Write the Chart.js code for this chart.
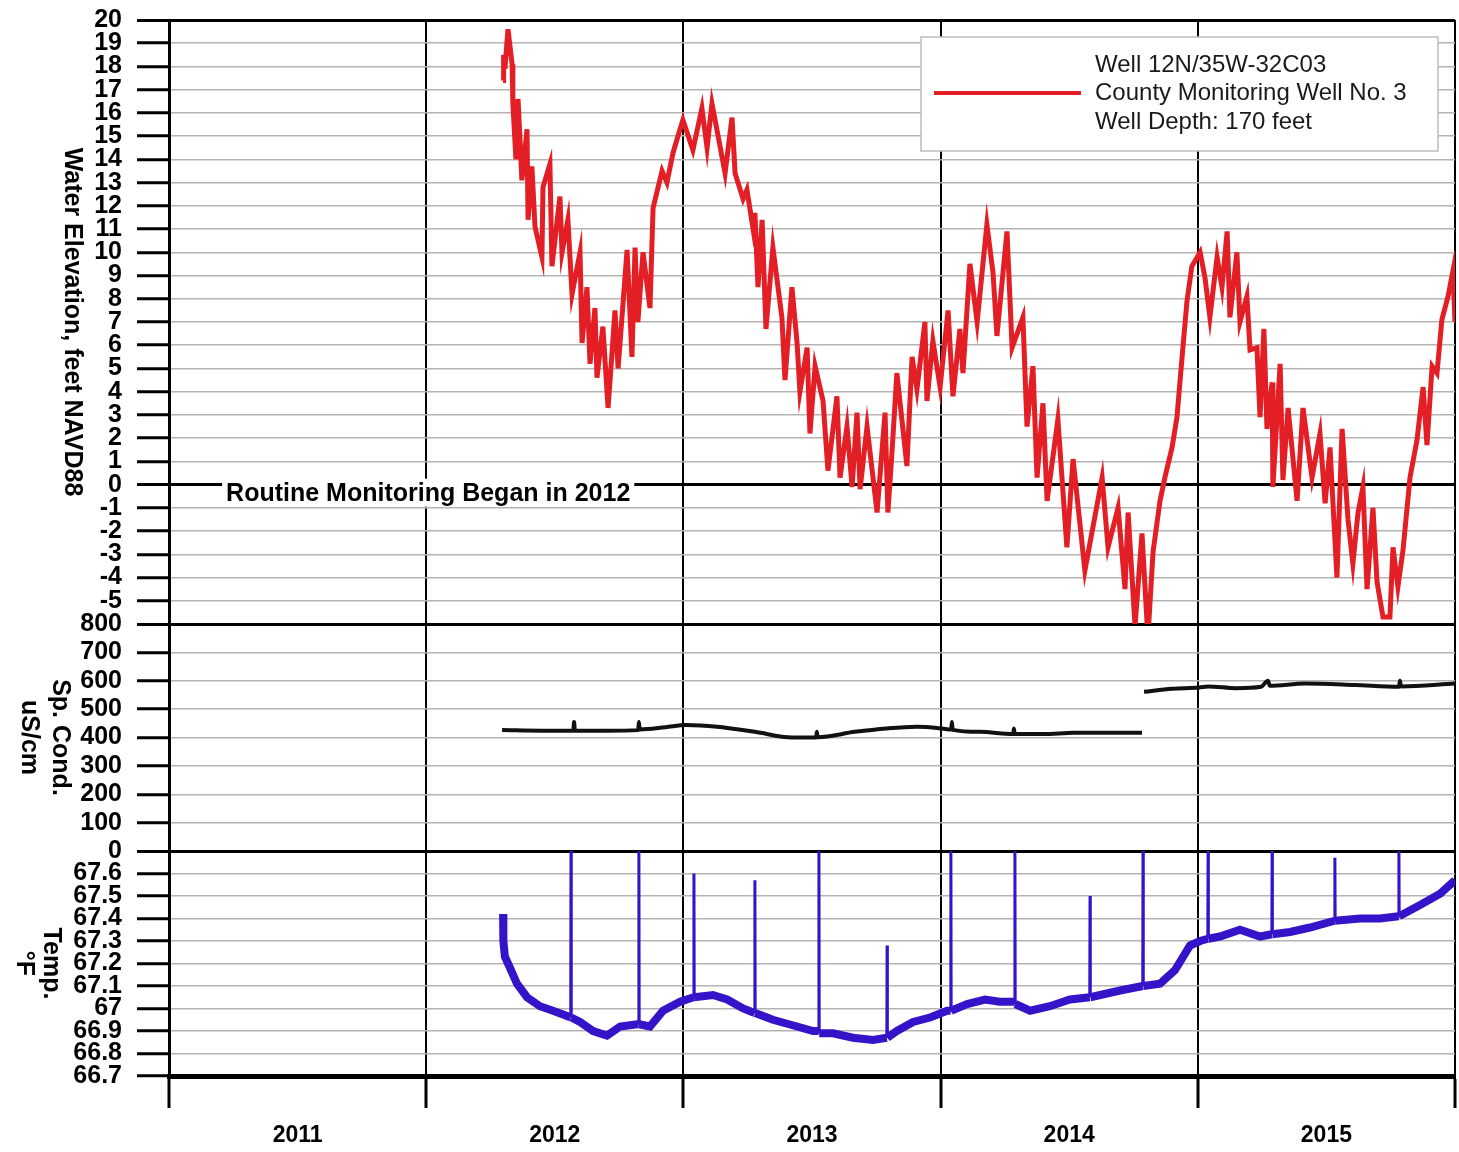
<!DOCTYPE html>
<html>
<head>
<meta charset="utf-8">
<script src="https://cdn.jsdelivr.net/npm/chart.js@4.4.1/dist/chart.umd.min.js"></script>
<style>
  html, body { margin: 0; padding: 0; background: #fff; }
  #wrap { width: 1459px; height: 1152px; position: relative; }
</style>
</head>
<body>
<div id="wrap"><canvas id="wellChart"></canvas></div>
<script>
// --- data (x in decimal years) ---
const yearTicks = [2011, 2012, 2013, 2014, 2015, 2016];

const levelYears = [
  2012.299, 2012.301, 2012.306, 2012.318, 2012.334, 2012.337, 2012.349, 2012.357, 2012.365, 2012.372,
  2012.392, 2012.396, 2012.411, 2012.423, 2012.450, 2012.454, 2012.481, 2012.489, 2012.520, 2012.528,
  2012.551, 2012.567, 2012.598, 2012.606, 2012.625, 2012.637, 2012.656, 2012.664, 2012.687, 2012.707,
  2012.722, 2012.734, 2012.746, 2012.781, 2012.800, 2012.812, 2012.823, 2012.843, 2012.870, 2012.882,
  2012.917, 2012.936, 2012.960, 2012.987, 2012.998, 2013.037, 2013.072, 2013.092, 2013.111, 2013.135,
  2013.162, 2013.189, 2013.201, 2013.232, 2013.247, 2013.271, 2013.278, 2013.290, 2013.306, 2013.321,
  2013.348, 2013.383, 2013.395, 2013.422, 2013.442, 2013.453, 2013.481, 2013.492, 2013.512, 2013.543,
  2013.562, 2013.597, 2013.609, 2013.636, 2013.656, 2013.675, 2013.687, 2013.714, 2013.753, 2013.784,
  2013.795, 2013.811, 2013.830, 2013.869, 2013.889, 2013.908, 2013.939, 2013.947, 2013.970, 2013.998,
  2014.029, 2014.048, 2014.075, 2014.087, 2014.114, 2014.142, 2014.180, 2014.204, 2014.219, 2014.258,
  2014.278, 2014.320, 2014.336, 2014.359, 2014.375, 2014.398, 2014.414, 2014.456, 2014.491, 2014.515,
  2014.561, 2014.628, 2014.651, 2014.690, 2014.717, 2014.729, 2014.756, 2014.783, 2014.806, 2014.826,
  2014.853, 2014.872, 2014.900, 2014.919, 2014.939, 2014.958, 2014.977, 2015.009, 2015.028, 2015.047,
  2015.075, 2015.094, 2015.114, 2015.125, 2015.152, 2015.164, 2015.191, 2015.203, 2015.230, 2015.242,
  2015.257, 2015.269, 2015.289, 2015.292, 2015.320, 2015.331, 2015.351, 2015.386, 2015.409, 2015.444,
  2015.475, 2015.495, 2015.514, 2015.541, 2015.561, 2015.584, 2015.603, 2015.623, 2015.642, 2015.658,
  2015.681, 2015.697, 2015.720, 2015.747, 2015.759, 2015.778, 2015.798, 2015.825, 2015.852, 2015.876,
  2015.891, 2015.911, 2015.930, 2015.949, 2015.973, 2015.992, 2016.000
];
const levelFeet = [
  17.4, 18.5, 17.9, 19.6, 18.1, 16.4, 14.0, 16.6, 14.8, 13.1,
  15.3, 11.4, 13.7, 11.1, 9.8, 12.8, 13.8, 9.4, 12.4, 10.0,
  11.4, 8.2, 10.0, 6.1, 8.5, 5.2, 7.6, 4.6, 6.8, 3.3,
  5.6, 7.5, 5.0, 10.1, 5.5, 10.2, 7.0, 10.0, 7.6, 11.9,
  13.5, 13.0, 14.3, 15.3, 15.7, 14.4, 16.2, 14.5, 16.4, 15.0,
  13.4, 15.8, 13.4, 12.3, 12.7, 11.0, 11.7, 8.5, 11.4, 6.7,
  10.2, 7.2, 4.5, 8.5, 6.1, 4.0, 5.9, 2.2, 5.1, 3.6,
  0.6, 3.8, 0.3, 2.5, -0.1, 3.1, -0.2, 2.5, -1.2, 3.1,
  -1.2, 1.4, 4.8, 0.8, 5.5, 4.1, 7.0, 3.6, 6.2, 4.2,
  7.5, 3.8, 6.7, 4.8, 9.5, 7.0, 11.2, 9.1, 6.4, 10.9,
  5.9, 7.2, 2.5, 5.1, 0.3, 3.5, -0.7, 2.8, -2.7, 1.1,
  -3.7, 0.3, -2.7, -1.0, -4.5, -1.2, -6.1, -2.1, -6.6, -2.9,
  -0.7, 0.3, 1.6, 2.9, 5.5, 7.9, 9.4, 10.0, 8.9, 7.2,
  9.8, 8.5, 10.9, 7.2, 10.0, 7.0, 8.1, 5.8, 5.9, 2.9,
  6.7, 2.4, 4.4, -0.1, 5.2, 0.2, 3.3, -0.7, 3.3, 0.3,
  2.2, -0.8, 1.6, -4.0, 2.4, -1.5, -3.4, -1.2, -0.1, -4.5,
  -1.0, -4.2, -5.7, -5.7, -2.7, -4.4, -2.8, 0.3, 1.9, 4.2,
  1.7, 5.1, 4.8, 7.1, 8.1, 9.2, 7.0
];

const condYears = [
  2012.295, 2012.450, 2012.572, 2012.575, 2012.578, 2012.700, 2012.824, 2012.827, 2012.830, 2012.930,
  2013.010, 2013.131, 2013.278, 2013.422, 2013.516, 2013.519, 2013.522, 2013.667, 2013.790, 2013.908,
  2014.005, 2014.041, 2014.044, 2014.047, 2014.153, 2014.282, 2014.285, 2014.288, 2014.400, 2014.519,
  2014.783, 2014.787, 2014.791, 2014.900, 2015.005, 2015.040, 2015.150, 2015.246, 2015.273, 2015.280,
  2015.417, 2015.611, 2015.782, 2015.786, 2015.790, 2016.000
];
const condValues = [
  426, 424, 424, 455, 424, 424, 426, 455, 428, 436,
  444, 438, 420, 400, 400, 420, 401, 420, 432, 438,
  432, 428, 455, 427, 420, 412, 432, 412, 412, 417,
  417, null, 561, 572, 576, 580, 574, 579, 600, 582,
  590, 585, 579, 600, 580, 590
];

const tempYears = [
  2012.299, 2012.300, 2012.306, 2012.326, 2012.353, 2012.392, 2012.442, 2012.493, 2012.540, 2012.562,
  2012.563, 2012.564, 2012.598, 2012.649, 2012.703, 2012.754, 2012.820, 2012.826, 2012.827, 2012.828,
  2012.870, 2012.921, 2012.987, 2013.040, 2013.041, 2013.042, 2013.115, 2013.170, 2013.232, 2013.277,
  2013.278, 2013.279, 2013.348, 2013.442, 2013.504, 2013.526, 2013.527, 2013.528, 2013.582, 2013.659,
  2013.737, 2013.791, 2013.792, 2013.793, 2013.830, 2013.893, 2013.959, 2014.025, 2014.039, 2014.040,
  2014.041, 2014.103, 2014.173, 2014.230, 2014.288, 2014.289, 2014.290, 2014.348, 2014.425, 2014.503,
  2014.580, 2014.581, 2014.582, 2014.698, 2014.786, 2014.787, 2014.788, 2014.853, 2014.911, 2014.970,
  2015.009, 2015.039, 2015.040, 2015.041, 2015.086, 2015.164, 2015.242, 2015.288, 2015.289, 2015.290,
  2015.359, 2015.436, 2015.532, 2015.533, 2015.534, 2015.631, 2015.708, 2015.781, 2015.782, 2015.783,
  2015.864, 2015.942, 2016.000
];
const tempValues = [
  67.42, 67.30, 67.23, 67.18, 67.11, 67.05, 67.01, 66.99, 66.97, 66.96,
  67.70, 66.96, 66.94, 66.90, 66.88, 66.92, 66.93, 66.93, 67.70, 66.93,
  66.92, 66.99, 67.03, 67.05, 67.60, 67.05, 67.06, 67.04, 67.00, 66.98,
  67.57, 66.98, 66.95, 66.92, 66.90, 66.90, 67.70, 66.89, 66.89, 66.87,
  66.86, 66.87, 67.28, 66.87, 66.90, 66.94, 66.96, 66.99, 66.99, 67.70,
  66.99, 67.02, 67.04, 67.03, 67.03, 67.70, 67.02, 66.99, 67.01, 67.04,
  67.05, 67.50, 67.05, 67.08, 67.10, 67.70, 67.10, 67.11, 67.17, 67.28,
  67.30, 67.31, 67.70, 67.31, 67.32, 67.35, 67.32, 67.33, 67.70, 67.33,
  67.34, 67.36, 67.39, 67.67, 67.39, 67.40, 67.40, 67.41, 67.70, 67.41,
  67.46, 67.51, 67.57
];

const legendLines = ["Well 12N/35W-32C03", "County Monitoring Well No. 3", "Well Depth: 170 feet"];
const noteText = "Routine Monitoring Began in 2012";

const FONT = '"Liberation Sans", Arial, sans-serif';
const RED = "#e41e25";
const BLUE = "#3513c8";
const GRAY = "#b4b4b4";

const toPoints = (xs, ys) => xs.map((x, i) => ({ x: x, y: ys[i] }));

// y axis titles, read clockwise like the original
const axisTitles = [
  { axis: "yW", lines: [["Water Elevation, feet NAVD88", 72]] },
  { axis: "yC", lines: [["Sp. Cond.", 60], ["uS/cm", 29]] },
  { axis: "yT", lines: [["Temp.", 51], ["\u00B0F", 24]] }
];

const overlay = {
  id: "overlay",
  afterDraw(chart) {
    const ctx = chart.ctx;
    const area = chart.chartArea;

    ctx.save();
    ctx.fillStyle = "#000";
    ctx.font = "bold 25px " + FONT;
    ctx.textAlign = "center";
    ctx.textBaseline = "middle";
    axisTitles.forEach(t => {
      const s = chart.scales[t.axis];
      const cy = (s.top + s.bottom) / 2;
      t.lines.forEach(([txt, x]) => {
        ctx.save();
        ctx.translate(x, cy);
        ctx.rotate(Math.PI / 2);
        ctx.fillText(txt, 0, 0);
        ctx.restore();
      });
    });
    ctx.restore();

    // note on the zero line
    const xs = chart.scales.x, yw = chart.scales.yW;
    ctx.save();
    ctx.font = "bold 25px " + FONT;
    const w = ctx.measureText(noteText).width;
    const cx = xs.getPixelForValue(2012) + 2;
    const cy = yw.getPixelForValue(0) + 8;
    ctx.fillStyle = "#fff";
    ctx.fillRect(cx - w / 2 - 4, cy - 14, w + 8, 28);
    ctx.fillStyle = "#000";
    ctx.textAlign = "center";
    ctx.textBaseline = "middle";
    ctx.fillText(noteText, cx, cy + 1);
    ctx.restore();

    // legend box
    const bx = area.right - 534, by = area.top + 17, bw = 517, bh = 114;
    ctx.save();
    ctx.fillStyle = "#fff";
    ctx.fillRect(bx, by, bw, bh);
    ctx.strokeStyle = "#bdbdbd";
    ctx.lineWidth = 1.5;
    ctx.strokeRect(bx, by, bw, bh);
    const ds = chart.data.datasets[0];
    ctx.strokeStyle = ds.borderColor;
    ctx.lineWidth = 4;
    ctx.beginPath();
    ctx.moveTo(bx + 13, by + 56);
    ctx.lineTo(bx + 160, by + 56);
    ctx.stroke();
    ctx.fillStyle = "#1a1a1a";
    ctx.font = "24px " + FONT;
    ctx.textAlign = "left";
    ctx.textBaseline = "middle";
    legendLines.forEach((txt, i) => ctx.fillText(txt, bx + 174, by + 28 + i * 28.5));
    ctx.restore();
  }
};

const tickFont = { family: FONT, size: 25, weight: "bold" };

function gridFor(edges) {
  return {
    color: c => edges.includes(c.tick.value) ? "#000" : GRAY,
    lineWidth: c => edges.includes(c.tick.value) ? 3 : 1.5,
    tickColor: "#000",
    tickWidth: 3,
    tickLength: 32
  };
}

function yAxis(min, max, step, weight, edges, hidden, fmt) {
  return {
    type: "linear",
    position: "left",
    stack: "panels",
    stackWeight: weight,
    min: min,
    max: max,
    ticks: {
      stepSize: step,
      autoSkip: false,
      padding: 15,
      color: "#000",
      font: tickFont,
      callback: v => (Math.abs(v - hidden) < 1e-6 ? "" : fmt(v))
    },
    grid: gridFor(edges),
    border: { color: "#000", width: 3 },
    afterFit: s => { s.width = 169; s.paddingTop = 0; s.paddingBottom = 0; }
  };
}

new Chart(document.getElementById("wellChart"), {
  type: "line",
  data: {
    datasets: [
      {
        label: legendLines[0],
        data: toPoints(levelYears, levelFeet),
        yAxisID: "yW",
        borderColor: RED,
        borderWidth: 5,
        pointRadius: 0,
        tension: 0
      },
      {
        label: "Sp. Cond.",
        data: toPoints(condYears, condValues),
        yAxisID: "yC",
        borderColor: "#111",
        borderWidth: 4,
        pointRadius: 0,
        spanGaps: false,
        cubicInterpolationMode: "monotone"
      },
      {
        label: "Temp.",
        data: toPoints(tempYears, tempValues),
        yAxisID: "yT",
        borderColor: BLUE,
        borderWidth: 8,
        pointRadius: 0,
        tension: 0,
        segment: {
          borderWidth: c => (Math.abs(c.p1.parsed.y - c.p0.parsed.y) > 0.15 ? 3 : 8)
        }
      }
    ]
  },
  options: {
    responsive: true,
    maintainAspectRatio: false,
    animation: false,
    layout: { padding: { left: 0, right: 4, top: 20, bottom: 0 } },
    plugins: { legend: { display: false }, tooltip: { enabled: false } },
    scales: {
      x: {
        type: "linear",
        min: yearTicks[0],
        max: yearTicks[yearTicks.length - 1],
        afterBuildTicks: s => { s.ticks = yearTicks.map(v => ({ value: v })); },
        ticks: {
          autoSkip: false,
          maxRotation: 0,
          labelOffset: 128.6,
          padding: 14,
          color: "#000",
          font: { family: FONT, size: 23, weight: "bold" },
          callback: v => (v < 2016 ? String(v) : "")
        },
        grid: { color: "#000", lineWidth: 2, tickColor: "#000", tickWidth: 3, tickLength: 32 },
        border: { color: "#000", width: 5 },
        afterFit: s => { s.height = 76; s.paddingLeft = 0; s.paddingRight = 0; }
      },
      // listed bottom-up; stacked left axes are laid out in reverse order
      yT: yAxis(66.7, 67.7, 0.1, 225, [67.7], 67.7, v => String(Number(v.toFixed(1)))),
      yC: yAxis(0, 800, 100, 227, [0, 800], -1, v => String(v)),
      yW: yAxis(-6, 20, 1, 604, [-6, 0, 20], -6, v => String(v))
    }
  },
  plugins: [overlay]
});
</script>
</body>
</html>
